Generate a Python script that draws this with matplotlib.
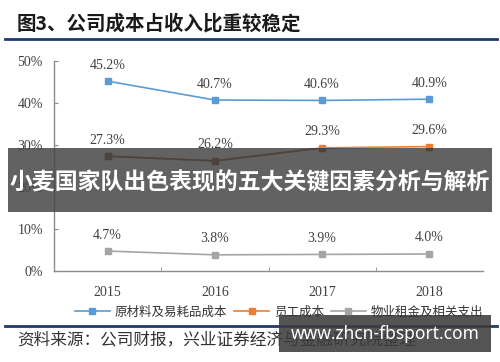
import numpy as np
import matplotlib
matplotlib.use("Agg")
import matplotlib.pyplot as plt
from matplotlib.patches import Rectangle
from matplotlib.lines import Line2D

plt.rcParams['font.family'] = ['Noto Sans CJK SC', 'DejaVu Sans']

years = ['2015', '2016', '2017', '2018']
materials = [45.2, 40.7, 40.6, 40.9]
staff = [27.3, 26.2, 29.3, 29.6]
rent = [4.7, 3.8, 3.9, 4.0]
series_names = ['原材料及易耗品成本', '员工成本', '物业租金及相关支出']
colors = ['#5b9bd5', '#ed7d31', '#a5a5a5']

fig = plt.figure(figsize=(5, 3.62), dpi=100)
ax = fig.add_axes([0.108, 0.252, 0.858, 0.5795])

x = np.arange(len(years))
handles = []
for ys, c, name in zip([materials, staff, rent], colors, series_names):
    h, = ax.plot(x, ys, color=c, lw=1.2, marker='s', markersize=3.8, label=name)
    handles.append(h)
    for xi, yi in zip(x, ys):
        ax.annotate(f'{yi:.1f}%', (xi, yi), xytext=(0, 16), textcoords='offset pixels',
                    ha='center', va='center', fontsize=10, color='#404040',
                    family='Liberation Serif')

ax.set_xlim(-0.5, 3.5)
ax.set_ylim(0, 50)
ax.set_yticks(np.arange(0, 51, 10))
ax.set_yticklabels([f'{v}%' for v in range(0, 51, 10)], family='Liberation Serif')
ax.set_xticks(x)
ax.set_xticklabels(years, family='Liberation Serif')
ax.set_xticks([0.5, 1.5, 2.5], minor=True)
ax.tick_params(axis='x', which='major', length=0, pad=11, labelsize=10, labelcolor='#404040')
ax.tick_params(axis='x', which='minor', direction='in', length=3, color='#8c8c8c')
ax.tick_params(axis='y', direction='in', length=3, color='#8c8c8c', pad=8,
               labelsize=10, labelcolor='#404040')
for s in ['top', 'right']:
    ax.spines[s].set_visible(False)
for s in ['left', 'bottom']:
    ax.spines[s].set_color('#8c8c8c')
    ax.spines[s].set_linewidth(1.0)

fig.legend(handles=handles, loc='center', bbox_to_anchor=(279 / 500, 1 - 312 / 362),
           ncol=3, frameon=False, fontsize=9, handlelength=2.8, handletextpad=0.4,
           columnspacing=0.55, labelcolor='#333333')

# title and rules
fig.text(17 / 500, 1 - 24 / 362, '图3、公司成本占收入比重较稳定', fontsize=14,
         weight='bold', color='#1a1a1a', va='center', ha='left')
fig.add_artist(Line2D([5 / 500, 497 / 500], [1 - 39 / 362] * 2, color='#1f3a6e', lw=2))
fig.add_artist(Line2D([5 / 500, 497 / 500], [1 - 326 / 362] * 2, color='#1f3a6e', lw=2))
fig.text(17 / 500, 1 - 340 / 362, '资料来源：公司财报，兴业证券经济与金融研究院整理',
         fontsize=12, color='#333333', va='center', ha='left')

# watermark banner
banner = Rectangle((8 / 500, 1 - 212 / 362), 484 / 500, 64 / 362, transform=fig.transFigure,
                   facecolor='#464646', alpha=0.85, edgecolor='none', zorder=5)
fig.add_artist(banner)
dark, = ax.plot(x, staff, color='#6e3518', lw=1.2, marker='s', markersize=3.8, zorder=6)
dark.set_clip_path(banner)
fig.text(0.5, 1 - 183 / 362, '小麦国家队出色表现的五大关键因素分析与解析', fontsize=16.5,
         weight='bold', color='white', ha='center', va='center', zorder=7)

site = Rectangle((279 / 500, 1 - 352 / 362), 212 / 500, 37 / 362, transform=fig.transFigure,
                 facecolor='#3c3c3c', alpha=0.88, edgecolor='none', zorder=5)
fig.add_artist(site)
fig.text(385 / 500, 1 - 334 / 362, 'www.zhcn-fbsport.com', fontsize=12.5, weight='bold',
         family='Noto Sans', color='white', ha='center', va='center', zorder=7)

fig.savefig('out.png', dpi=100)
